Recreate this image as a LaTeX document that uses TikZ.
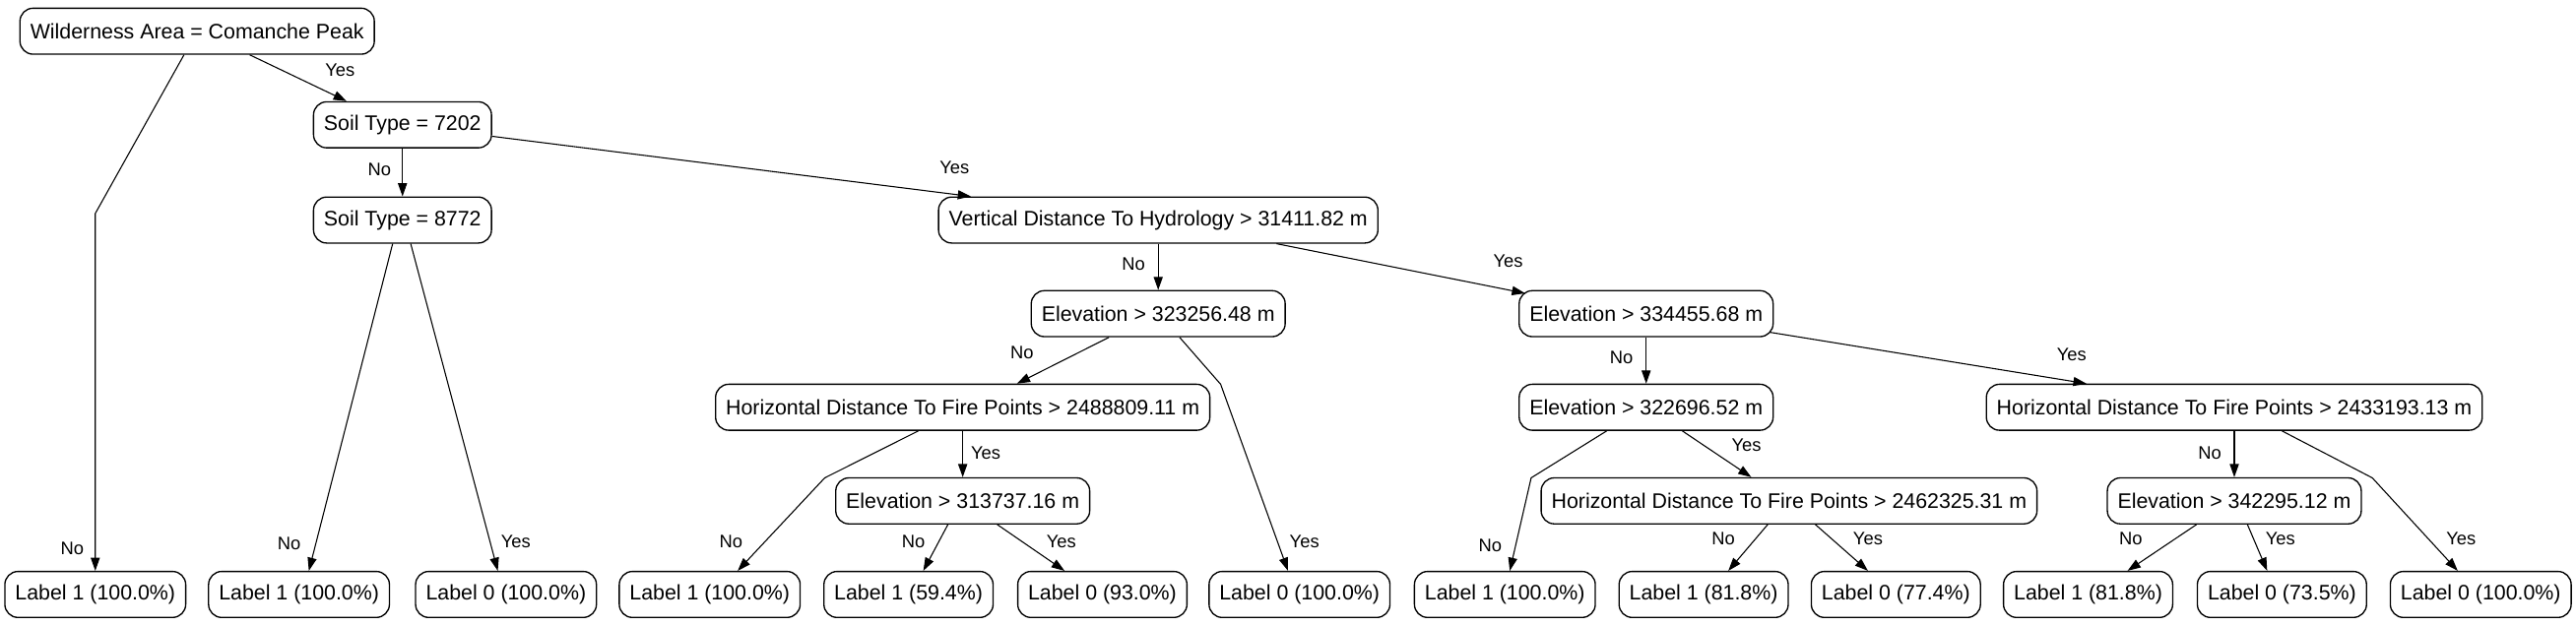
\documentclass[tikz,border=0pt]{standalone}
\usepackage{fontspec}
\setmainfont{Liberation Sans}
\usetikzlibrary{arrows.meta, positioning}

\begin{document}
\begin{tikzpicture}[x=1pt, y=-1pt,
  split/.style={draw, rounded corners=8pt, line width=0.8pt, minimum height=28pt, inner xsep=6.3pt, font=\fontsize{12.8}{15}\selectfont},
  leaf/.style={split},
  branch/.style={-{Triangle[length=8pt, width=5.5pt]}, line width=0.65pt},
  ans/.style={inner sep=0pt, font=\fontsize{11}{13}\selectfont}]
\useasboundingbox (0,0) rectangle (1568,381);

% Splits
\node[split] (root) at (120,19) {Wilderness Area = Comanche Peak};
\node[split] (s7202) at (245,76) {Soil Type = 7202};
\node[split] (s8772) at (245,134) {Soil Type = 8772};
\node[split] (vdh) at (705,134) {Vertical Distance To Hydrology > 31411.82 m};
\node[split] (e323) at (705,191) {Elevation > 323256.48 m};
\node[split] (e334) at (1002,191) {Elevation > 334455.68 m};
\node[split] (hd2488) at (586,248) {Horizontal Distance To Fire Points > 2488809.11 m};
\node[split] (e322) at (1002,248) {Elevation > 322696.52 m};
\node[split] (hd2433) at (1360,248) {Horizontal Distance To Fire Points > 2433193.13 m};
\node[split] (e313) at (586,305) {Elevation > 313737.16 m};
\node[split] (hd2462) at (1089,305) {Horizontal Distance To Fire Points > 2462325.31 m};
\node[split] (e342) at (1360,305) {Elevation > 342295.12 m};

% Leaves
\node[leaf] (l1) at (58,362) {Label 1 (100.0\%)};
\node[leaf] (l2) at (182,362) {Label 1 (100.0\%)};
\node[leaf] (l3) at (308,362) {Label 0 (100.0\%)};
\node[leaf] (l4) at (432,362) {Label 1 (100.0\%)};
\node[leaf] (l5) at (553,362) {Label 1 (59.4\%)};
\node[leaf] (l6) at (671,362) {Label 0 (93.0\%)};
\node[leaf] (l7) at (791,362) {Label 0 (100.0\%)};
\node[leaf] (l8) at (916,362) {Label 1 (100.0\%)};
\node[leaf] (l9) at (1037,362) {Label 1 (81.8\%)};
\node[leaf] (l10) at (1154,362) {Label 0 (77.4\%)};
\node[leaf] (l11) at (1271,362) {Label 1 (81.8\%)};
\node[leaf] (l12) at (1389,362) {Label 0 (73.5\%)};
\node[leaf] (l13) at (1510,362) {Label 0 (100.0\%)};

% Bends
\coordinate (b1) at (58,130);
\coordinate (b7) at (743,234);
\coordinate (b4) at (502,291);
\coordinate (b8) at (932,291);
\coordinate (b13) at (1444,291);

% Branches
\draw[branch] ([xshift=-8pt]root.south) -- (b1) -- (l1.north);
\draw[branch] ([xshift=32pt]root.south) -- ([xshift=-34pt]s7202.north);
\draw[branch] (s7202) -- (s8772);
\draw[branch] ([yshift=-7pt]s7202.east) -- ([xshift=-114pt]vdh.north);
\draw[branch] ([xshift=-6pt]s8772.south) -- ([xshift=6pt]l2.north);
\draw[branch] ([xshift=5pt]s8772.south) -- ([xshift=-5pt]l3.north);
\draw[branch] (vdh) -- (e323);
\draw[branch] ([xshift=72pt]vdh.south) -- ([xshift=4pt, yshift=-2pt]e334.north west);
\draw[branch] ([xshift=-30pt]e323.south) -- ([xshift=33pt]hd2488.north);
\draw[branch] ([xshift=13pt]e323.south) -- (b7) -- ([xshift=-7pt]l7.north);
\draw[branch] ([xshift=-27pt]hd2488.south) -- (b4) -- ([xshift=17pt]l4.north);
\draw[branch] (hd2488) -- (e313);
\draw[branch] ([xshift=-9pt]e313.south) -- ([xshift=9pt]l5.north);
\draw[branch] ([xshift=21pt]e313.south) -- ([xshift=-23pt]l6.north);
\draw[branch] (e334) -- (e322);
\draw[branch] ([xshift=-2pt, yshift=3pt]e334.south east) -- ([xshift=-90pt]hd2433.north);
\draw[branch] ([xshift=-24pt]e322.south) -- (b8) -- ([xshift=3pt]l8.north);
\draw[branch] ([xshift=22pt]e322.south) -- ([xshift=-23pt]hd2462.north);
\draw[branch] ([xshift=-13pt]hd2462.south) -- ([xshift=15pt]l9.north);
\draw[branch] ([xshift=16pt]hd2462.south) -- ([xshift=-17pt]l10.north);
\draw[branch] (hd2433) -- (e342);
\draw[branch] ([xshift=29pt]hd2433.south) -- (b13) -- ([xshift=-14pt]l13.north);
\draw[branch] ([xshift=-23pt]e342.south) -- ([xshift=24pt]l11.north);
\draw[branch] ([xshift=8pt]e342.south) -- ([xshift=-9pt]l12.north);

% Answers
\node[ans] (a1) at (44,334) {No};
\node[ans] (a2) at (207,43) {Yes};
\node[ans] (a3) at (231,103) {No};
\node[ans] (a4) at (581,102) {Yes};
\node[ans] (a5) at (176,331) {No};
\node[ans] (a6) at (314,330) {Yes};
\node[ans] (a7) at (690,161) {No};
\node[ans] (a8) at (918,159) {Yes};
\node[ans] (a9) at (622,215) {No};
\node[ans] (a10) at (794,330) {Yes};
\node[ans] (a11) at (445,330) {No};
\node[ans] (a12) at (600,276) {Yes};
\node[ans] (a13) at (556,330) {No};
\node[ans] (a14) at (646,330) {Yes};
\node[ans] (a15) at (987,218) {No};
\node[ans] (a16) at (1261,216) {Yes};
\node[ans] (a17) at (907,332) {No};
\node[ans] (a18) at (1063,271) {Yes};
\node[ans] (a19) at (1049,328) {No};
\node[ans] (a20) at (1137,328) {Yes};
\node[ans] (a21) at (1345,276) {No};
\node[ans] (a22) at (1498,328) {Yes};
\node[ans] (a23) at (1297,328) {No};
\node[ans] (a24) at (1388,328) {Yes};
\end{tikzpicture}
\end{document}
